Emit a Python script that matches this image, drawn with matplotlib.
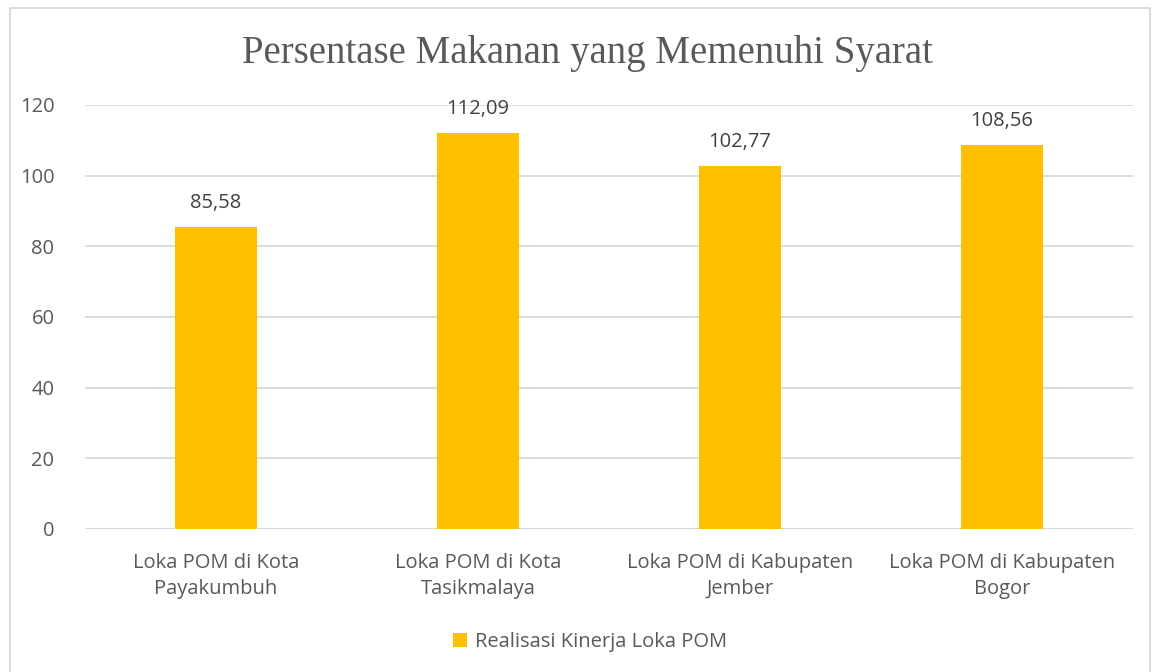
import matplotlib.pyplot as plt
from matplotlib.patches import Rectangle

categories = ["Loka POM di Kota\nPayakumbuh", "Loka POM di Kota\nTasikmalaya",
              "Loka POM di Kabupaten\nJember", "Loka POM di Kabupaten\nBogor"]
values = [85.58, 112.09, 102.77, 108.56]
value_labels = ["85,58", "112,09", "102,77", "108,56"]
yticks = [0, 20, 40, 60, 80, 100, 120]
series_name = "Realisasi Kinerja Loka POM"

plt.rcParams['font.family'] = ['Open Sans', 'DejaVu Sans']
txt = "#595959"
fs = 14.5

fig = plt.figure(figsize=(11.57, 6.72), dpi=100)
ax = fig.add_axes([85/1157, 1-529/672, (1133-85)/1157, (529-105)/672])

x = range(len(categories))
bars = ax.bar(x, values, width=0.31, color="#FFC000", zorder=3, label=series_name)
for i, b in enumerate(bars):
    ax.text(b.get_x() + b.get_width()/2, values[i] + 6.8, value_labels[i],
            ha="center", va="center", fontsize=fs, color="#404040")

ax.set_xlim(-0.5, 3.5)
ax.set_ylim(0, 120)
ax.set_yticks(yticks)
ax.set_yticklabels([str(t) for t in yticks], fontsize=fs, color=txt)
ax.set_xticks(list(x))
ax.set_xticklabels(categories, fontsize=fs, color=txt, linespacing=1.4)
ax.tick_params(length=0, axis="both")
ax.tick_params(axis="y", pad=22)
ax.tick_params(axis="x", pad=17)
ax.grid(axis="y", color="#D9D9D9", linewidth=1.3, zorder=0)
for s in ax.spines.values():
    s.set_visible(False)
ax.axhline(0, color="#D9D9D9", linewidth=1.3, zorder=1)

fig.text(0.508, 1-54/672, "Persentase Makanan yang Memenuhi Syarat",
         ha="center", va="center", fontsize=28, color=txt, family="Liberation Serif")

leg = fig.legend(handles=[bars], labels=[series_name], loc="center",
                 bbox_to_anchor=(0.51, 1-642/672), frameon=False,
                 fontsize=fs, handlelength=0.65, handleheight=0.65, handletextpad=0.4)
for t in leg.get_texts():
    t.set_color(txt)

fig.patches.append(Rectangle((10/1157, -0.05), (1150-10)/1157, 1.05 - 8/672,
                             transform=fig.transFigure, fill=False,
                             edgecolor="#D9D9D9", linewidth=1.3))

fig.savefig("out.png", dpi=100)
